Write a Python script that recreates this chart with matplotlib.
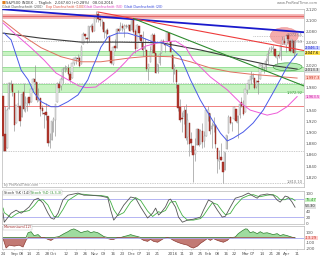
import matplotlib
matplotlib.use("Agg")
import matplotlib.pyplot as plt
from matplotlib.patches import Ellipse
import numpy as np

# ---------------- data (S&P 500 daily, 24 Aug 2015 - 8 Apr 2016) ----------------
opens = [1965.2,1898.1,1872.8,1942.8,1986.1,1986.7,1970.1,1916.5,1950.8,1947.8,
         1927.3,1971.5,1941.6,1951.5,1963.1,1955.1,1978.0,1995.3,1989.7,1960.8,
         1961.4,1943.2,1934.8,1935.9,1929.2,1881.9,1887.1,1919.7,1921.8,1954.3,
         1986.6,1982.3,1994.0,2013.7,2015.7,2015.0,2003.7,1996.5,2024.4,2031.7,
         2033.1,2033.5,2021.9,2058.2,2075.1,2068.8,2066.5,2088.4,2090.0,2080.8,
         2102.6,2110.6,2101.7,2098.6,2096.6,2077.2,2083.4,2072.3,2044.6,2022.1,
         2053.7,2051.0,2083.7,2082.8,2089.4,2084.4,2089.3,2088.8,2090.9,2082.9,
         2101.7,2080.7,2051.2,2090.4,2073.4,2061.2,2047.9,2047.3,2013.4,2025.6,
         2046.5,2073.8,2040.8,2010.3,2023.2,2042.2,2063.5,2057.8,2060.5,2077.3,
         2060.6,2038.2,2013.8,2011.7,1985.3,1946.0,1926.1,1927.8,1940.3,1891.7,
         1916.7,1888.7,1876.2,1861.5,1877.4,1906.3,1878.8,1902.5,1885.2,1894.0,
         1936.9,1935.3,1907.1,1911.7,1913.1,1873.3,1848.5,1857.1,1847.0,1833.4,
         1871.4,1898.8,1927.6,1916.7,1924.4,1942.4,1917.6,1931.9,1955.0,1947.1,
         1937.1,1976.6,1985.6,1994.0,1996.1,1996.9,1981.4,1991.0,1994.7,2019.3,
         2015.3,2014.2,2026.9,2041.2,2047.9,2048.6,2048.6,2032.5,2037.9,2035.8,
         2058.3,2063.8,2056.6,2073.2,2062.5,2045.6,2063.0,2045.5]
highs = [1965.2,1948.0,1943.1,1989.6,1993.5,1986.7,1970.1,1948.9,1975.0,1947.8,
         1970.4,1988.6,1965.3,1961.1,1963.1,1983.2,1997.3,2020.9,1989.7,1979.6,
         1961.4,1949.5,1937.2,1952.9,1929.2,1899.5,1920.5,1927.2,1951.4,1989.2,
         1991.6,1999.3,2016.5,2020.1,2018.7,2022.3,2009.6,2024.2,2033.5,2034.5,
         2039.1,2037.0,2055.2,2079.7,2075.1,2070.4,2090.4,2092.5,2094.3,2106.2,
         2116.5,2114.2,2108.8,2101.9,2096.6,2083.7,2086.9,2072.3,2044.6,2053.2,
         2066.7,2085.3,2086.7,2097.1,2095.6,2094.1,2093.0,2093.3,2093.8,2103.4,
         2104.3,2085.0,2093.8,2090.4,2073.4,2080.3,2067.7,2047.3,2022.9,2053.9,
         2076.7,2076.4,2040.8,2022.9,2042.7,2064.7,2067.4,2057.8,2081.6,2077.3,
         2062.5,2038.2,2021.9,2011.7,1985.3,1960.4,1935.7,1947.4,1950.3,1934.5,
         1916.7,1901.4,1876.2,1889.9,1908.9,1906.3,1906.7,1917.0,1903.0,1940.2,
         1947.2,1935.3,1918.0,1927.4,1913.1,1873.3,1868.3,1881.6,1847.0,1864.8,
         1895.8,1930.7,1930.0,1918.8,1946.7,1942.4,1932.1,1951.8,1963.0,1958.3,
         1978.4,1986.5,1993.7,2009.1,2006.1,1996.9,1992.7,2005.1,2022.4,2024.6,
         2015.9,2032.0,2046.2,2052.4,2053.9,2056.6,2048.6,2036.0,2042.7,2055.9,
         2072.2,2067.9,2075.1,2074.0,2062.5,2067.3,2063.0,2060.6]
lows = [1867.0,1867.1,1872.8,1942.8,1975.2,1965.9,1903.1,1916.5,1944.7,1911.6,
        1927.3,1937.9,1937.2,1939.2,1948.3,1954.3,1977.9,1986.7,1953.5,1955.8,
        1929.2,1932.6,1908.9,1921.5,1876.9,1871.9,1887.1,1900.7,1893.7,1954.3,
        1971.7,1976.4,1987.5,2007.6,2010.6,2001.8,1990.7,1996.5,2020.5,2022.3,
        2026.6,2017.2,2021.9,2058.2,2066.5,2058.8,2063.1,2082.6,2079.3,2080.8,
        2097.5,2096.9,2090.4,2083.7,2068.2,2069.9,2074.9,2045.7,2022.0,2019.4,
        2045.9,2051.0,2078.8,2082.8,2081.4,2070.3,2086.3,2084.1,2080.4,2082.9,
        2077.1,2042.4,2051.2,2066.8,2052.3,2036.5,2045.7,2008.8,1993.3,2025.6,
        2042.4,2041.7,2005.3,2005.9,2020.5,2042.2,2058.7,2044.2,2060.5,2062.0,
        2043.6,1989.7,2004.2,1979.1,1938.8,1918.5,1901.1,1914.4,1886.3,1878.9,
        1857.8,1864.6,1812.3,1849.0,1877.4,1876.0,1878.8,1872.7,1873.7,1894.0,
        1920.3,1897.3,1872.2,1900.5,1872.7,1828.5,1834.9,1850.3,1810.1,1833.4,
        1871.4,1898.8,1915.1,1902.2,1924.4,1919.4,1891.0,1925.4,1945.8,1931.8,
        1937.1,1968.8,1977.4,1986.8,1989.4,1977.4,1979.8,1969.3,1994.7,2012.2,
        2005.2,2010.0,2022.2,2041.2,2043.1,2040.6,2034.9,2022.5,2032.0,2028.3,
        2058.3,2057.5,2044.0,2062.6,2042.6,2043.1,2033.8,2041.7]
closes = [1893.2,1867.6,1940.5,1987.7,1988.9,1972.2,1913.9,1948.9,1951.1,1921.2,
          1969.4,1942.0,1952.3,1961.1,1953.0,1978.1,1995.3,1990.2,1958.0,1967.0,
          1942.7,1938.8,1932.2,1931.3,1881.8,1884.1,1920.0,1923.8,1951.4,1987.1,
          1979.9,1995.8,2013.4,2014.9,2017.5,2003.7,1994.2,2023.9,2033.1,2033.7,
          2030.8,2018.9,2052.5,2075.2,2071.2,2065.9,2090.4,2089.4,2079.4,2104.1,
          2109.8,2102.3,2099.9,2099.2,2078.6,2081.7,2075.0,2046.0,2023.0,2053.2,
          2050.4,2083.6,2081.2,2089.2,2086.6,2089.1,2088.9,2090.1,2080.4,2102.6,
          2079.5,2049.6,2091.7,2077.1,2063.6,2047.6,2052.2,2012.4,2021.9,2043.4,
          2073.1,2041.9,2005.6,2021.2,2039.0,2064.3,2061.0,2056.5,2078.4,2063.4,
          2043.9,2012.7,2016.7,1990.3,1943.1,1922.0,1923.7,1938.7,1890.3,1921.8,
          1880.3,1881.3,1859.3,1869.0,1906.9,1877.1,1903.6,1883.0,1893.4,1940.2,
          1939.4,1903.0,1912.5,1915.5,1880.1,1853.4,1852.2,1851.9,1829.1,1864.8,
          1895.6,1926.8,1917.8,1917.8,1945.5,1921.3,1929.8,1951.7,1948.1,1932.2,
          1978.4,1986.5,1993.4,2000.0,2001.8,1979.3,1989.3,1989.6,2022.2,2019.6,
          2015.9,2027.2,2040.6,2049.6,2051.6,2049.8,2036.7,2035.9,2037.1,2055.0,
          2064.0,2059.7,2072.8,2066.1,2045.2,2066.7,2041.9,2047.6]

# moving averages (trading-day index, price)
ma20_idx = [0.6,4.3,7,9.7,13.4,16.6,20.4,25.7,29.5,34.8,40.2,45.5,48.2,49.8,52.5,56.2,61.6,66.9,
            73.9,80.8,85.6,89.9,95.3,100.6,105.9,111.3,116.7,120.4,123.6,129,134.3,139.7,145,
            148.8,152.5,155.2,157.9]
ma20_val = [2077,2065,2038,2011,1994,1971,1955,1946,1946,1955,1967,1994,2017,2029,2052,2070,2077,2077,
            2070,2061,2060,2052,2035,1994,1958,1928,1899,1885,1890,1901,1917,1940,1971,
            1994,2017,2029,2040]
ma50_idx = [0,7,15,22,28.4,34.8,40.7,44.4,49.8,55.1,60.5,65.8,70.1,76.6,84.6,92.6,98,102.2,111.3,
            120.4,127.4,132.7,141.8,147.2,152.5,157.9]
ma50_val = [2095,2074,2051,2029,2006,1994,1983,1980,1981,1994,2008,2026,2042,2054,2061,2063,2052,2029,1999,
            1976,1953,1940,1931,1935,1946,1964]
ma100_idx = [0,9.7,20.4,31.1,41.8,52.5,68.5,79.2,89.9,100.6,111.3,122,132.7,143.4,157.9]
ma100_val = [2099,2074,2051,2035,2026,2026,2033,2036,2035,2026,2015,2008,2004,2001,1997]
ma200_idx = [0,20.4,41.8,63.2,84.6,106,127.4,143.4,157.9]
ma200_val = [2077,2068,2061,2061,2060,2047,2031,2020,2013]

# trend lines (index, price)
blue_trend = ([0, 161.6], [2119.5, 2078.6])
red_trend = ([50.9, 161.6], [2114.7, 2046.0])
green_trend = ([70, 161.6], [2103, 1983])

# horizontal levels
pink_band = (2102.3, 2111.2, 2106.7)
green_bands = [(2038.2, 2045.3), (2010.3, 2017.4), (1972.9, 1986.1)]
red_level = 1948
dotted_levels = [2063.6, 1988.0, 1867.0, 1810.1]

# stochastic (index, value)
st_idx = [0,0.6,4.3,7,9.7,11.3,14,16.6,18.8,21.4,24.1,25.7,27.3,29.5,32.1,34.8,40.2,43.4,47.1,52.5,
          56.2,57.8,59.4,61.6,64.8,68.5,71.2,73.9,77.6,80.3,81.9,83.5,84.6,87.2,88.9,89.9,92.6,94.2,
          96.3,99,102.2,106,107.6,110.3,112.4,115.1,117.7,119.4,122,124.7,128.4,131.7,134.3,136.5,
          138.1,141.8,145,147.2,148.8,151.5,153.1,155.2,156.8]
st_k = [33,3,33,43,33,40,54,77,83,67,33,17,13,33,77,93,100,93,93,90,
        85,43,10,27,60,87,83,53,17,33,50,27,33,54,77,80,53,20,
        3,10,13,20,43,77,70,43,20,23,53,83,90,100,90,83,
        93,97,93,77,70,90,87,70,53]
st_d = [50,35,18,30,38,38,42,58,75,78,60,40,22,20,45,75,97,96,93,92,
        88,70,45,25,35,70,85,75,40,22,30,38,35,42,60,70,72,50,
        25,10,10,15,25,50,68,62,40,28,32,58,83,92,95,90,
        88,93,95,88,78,78,84,82,75]

# momentum(12) (index, value)
mo_idx = [0,1.6,3.3,6,8.6,10.7,12.3,13.4,15,16.6,18.8,20.4,22,24.1,25.7,27.3,30,32.7,34.8,36.4,
          38,40.2,41.8,43.4,45.5,47.1,48.7,50.9,52.5,54.1,56.2,57.8,59.4,61.6,63.2,64.8,66.9,68.5,
          70.1,72.3,73.9,75.5,77.6,79.2,80.8,83,84.6,86.2,88.3,89.9,91.5,93.7,95.3,96.9,99,100.6,
          102.2,104.4,106,107.6,109.7,111.3,112.9,115.1,116.7,118.3,120.4,122,123.1,124.7,126.3,
          128.4,130.1,131.1,132.7,134.3,136.5,138.1,139.7,141.8,143.4,145,147.2,148.8,150.4,152.5,
          154.1,155.7,156.8]
mo_val = [-24,-200,-145,-163,-145,-180,-55,90,110,36,55,0,0,-36,-55,-20,18,73,110,145,
          163,127,90,110,127,90,110,90,55,18,-20,-36,-36,0,0,18,36,55,
          36,18,-20,-55,-73,-36,-73,-90,-55,-20,0,-20,-55,-90,-110,-127,-145,-180,
          -200,-163,-110,-73,-20,-55,-20,-55,-73,-90,-55,0,-10,10,73,
          127,163,160,90,110,73,110,80,90,73,55,73,36,55,36,
          18,0,-13]

xtick_pos = [0,6,10,14,19,24,27,34,39,44,49,54,59,64,69,73,78,83,91,96,101,106,110,115,120,124,
             130,134,139,144,148,152,158]
xtick_lab = ["24","Sep","08","14","21","28","Oct","12","19","26","Nov","09","16","23","Dec","07",
             "14","21","2016","11","19","25","Feb","08","16","22","Mar","07","14","21","28","Apr","11"]

# ---------------- figure ----------------
W, H = 320, 256
fig = plt.figure(figsize=(3.2, 2.56), dpi=100)
fig.patch.set_facecolor("white")

def rect(x0, y0, x1, y1):
    return [x0 / W, 1 - y1 / H, (x1 - x0) / W, (y1 - y0) / H]

ax = fig.add_axes(rect(2, 9, 304, 187))
ax_st = fig.add_axes(rect(2, 191, 304, 224))
ax_mo = fig.add_axes(rect(2, 226, 304, 249))

XL = (-0.6, 161.6)
FS = 3.0
for a in (ax, ax_st, ax_mo):
    a.set_xlim(*XL)
    a.set_facecolor("white")
    for s in a.spines.values():
        s.set_color("#b8b8b8")
        s.set_linewidth(0.5)
    a.yaxis.tick_right()
    a.tick_params(axis="y", length=0, labelsize=FS, colors="#555555", pad=1.5)
    a.tick_params(axis="x", length=0, labelbottom=False)

# main panel
ax.set_ylim(1803, 2120)
ax.axhspan(pink_band[0], pink_band[1], color="#f6b9b9", lw=0, zorder=1)
ax.axhline(pink_band[2], color="#e36a6a", lw=0.9, zorder=1)
for lo, hi in green_bands:
    ax.axhspan(lo, hi, color="#c8f3c2", lw=0, zorder=1)
    ax.axhline(lo, color="#8ad88a", lw=0.5, zorder=1)
    ax.axhline(hi, color="#8ad88a", lw=0.5, zorder=1)
ax.axhline(red_level, color="#f08080", lw=0.7, zorder=1)
for lv in dotted_levels:
    ax.axhline(lv, color="#9a9a9a", lw=0.5, ls=(0, (1, 1.5)), zorder=1)
ax.plot([134, 161.6], [2072.6, 2072.6], color="#9a9a9a", lw=0.5, ls=(0, (1, 1.5)), zorder=1)

ax.add_patch(Ellipse((151, 2072), 15, 30, facecolor="#f29090", edgecolor="#e88080",
                     alpha=0.75, lw=0.4, zorder=2))
ax.add_patch(Ellipse((152.8, 2017), 15.5, 14.2, facecolor="#b2eab2", edgecolor="#3a9a3a",
                     alpha=0.9, lw=0.5, zorder=2))

o = np.array(opens); h = np.array(highs); l = np.array(lows); c = np.array(closes)
idx = np.arange(len(c))
up = c >= o
ax.vlines(idx, l, h, color="#8c8c8c", lw=0.45, zorder=3)
body_lo = np.minimum(o, c)
body_h = np.maximum(np.abs(c - o), 0.8)
ax.bar(idx[up], body_h[up], bottom=body_lo[up], width=0.75, color="#ececec",
       edgecolor="#9a9a9a", linewidth=0.3, zorder=3)
ax.bar(idx[~up], body_h[~up], bottom=body_lo[~up], width=0.75, color="#b3362c",
       edgecolor="#8e2a22", linewidth=0.3, zorder=3)

ax.plot(ma200_idx, ma200_val, color="#3c3c3c", lw=0.8, zorder=4)
ax.plot(ma100_idx, ma100_val, color="#e07060", lw=0.7, zorder=4)
ax.plot(ma50_idx, ma50_val, color="#ee5ad8", lw=0.7, zorder=4)
ax.plot(ma20_idx, ma20_val, color="#4a5ae8", lw=0.7, zorder=4)
ax.plot(*blue_trend, color="#1a1acc", lw=1.3, zorder=5)
ax.plot(*red_trend, color="#ee3b3b", lw=0.8, zorder=5)
ax.plot(*green_trend, color="#2e8b2e", lw=0.8, zorder=5)

yt = [1820, 1840, 1860, 1880, 1900, 1920, 1940, 1980, 2020, 2060, 2080, 2100, 2120]
ax.set_yticks(yt)
ax.set_yticklabels([f"{v:,}" for v in yt])

def box(a, y, txt, fc, tc="black", fs=FS):
    a.text(1.004, y, txt, transform=a.get_yaxis_transform(), fontsize=fs, va="center",
           ha="left", color=tc, bbox=dict(boxstyle="square,pad=0.08", fc=fc, ec="none"),
           clip_on=False, zorder=10)

box(ax, 2050.5, "2,046.1", "#c8d0ff", "#1a1acc", 2.7)
box(ax, 2041.5, "2,047.6", "#ffe14a", "black", 2.7)
box(ax, 2011.0, "2,013.3", "#dddddd", "#333333", 2.7)
box(ax, 1998.0, "1,997.3", "#ffd0c8", "#c03020", 2.7)
box(ax, 1963.0, "1,963.5", "#ffc8f0", "#c020a0", 2.7)

small = dict(fontsize=2.6, ha="right", va="center", color="#777777", zorder=6)
ax.text(160.8, 2074.5, "2,072.65", **small)
ax.text(160.8, 2061.6, "2,063.59", **small)
ax.text(160.8, 1970.5, "1,972.92", color="#3a9a3a", fontsize=2.6, ha="right", va="center")
ax.text(160.8, 1812.5, "1,810.10", **small)
ax.text(0.3, 1803.5, "by ProRealTime.com", fontsize=2.4, color="#888888", va="bottom")

# stochastic
ax_st.set_ylim(-3, 107)
ax_st.axhline(80, color="#a8a8f0", lw=0.6)
ax_st.axhline(20, color="#a8a8f0", lw=0.6)
ax_st.plot(st_idx, st_d, color="#44b044", lw=0.6)
ax_st.plot(st_idx, st_k, color="#555555", lw=0.6)
ax_st.set_yticks([0, 20, 40, 100])
ax_st.set_yticklabels(["0", "20", "40", "100"])
box(ax_st, 77, "75.47", "#c8f3c2", "#2e8b2e", 2.7)
box(ax_st, 56, "53.30", "#e0e0e0", "#333333", 2.7)
ax_st.text(0.3, 101, "Stoch %K (14)", fontsize=2.5, color="#333333", va="center",
           bbox=dict(boxstyle="square,pad=0.1", fc="white", ec="#bbbbbb", lw=0.3))
ax_st.text(15.0, 101, "Stoch %D (3,3,3)", fontsize=2.5, color="#2e8b2e", va="center",
           bbox=dict(boxstyle="square,pad=0.1", fc="white", ec="#bbbbbb", lw=0.3))

# momentum
ax_mo.set_ylim(-218, 218)
mv = np.array(mo_val, dtype=float)
mi = np.array(mo_idx, dtype=float)
ax_mo.fill_between(mi, mv, 0, where=mv >= 0, interpolate=True, color="#9fdc9f", lw=0)
ax_mo.fill_between(mi, mv, 0, where=mv <= 0, interpolate=True, color="#c27a74", lw=0)
ax_mo.plot(mi, np.maximum(mv, 0), color="#2e7d2e", lw=0.5)
ax_mo.plot(mi, np.minimum(mv, 0), color="#8e3a32", lw=0.5)
ax_mo.axhline(0, color="#a8a8f0", lw=0.6)
ax_mo.set_yticks([100, -100, -200])
ax_mo.set_yticklabels(["100", "-100", "-200"])
box(ax_mo, -13, "-13.29", "#ffd0d0", "#c03020", 2.7)
ax_mo.text(0.3, 190, "Momentum(12)", fontsize=2.6, color="#a03030", va="center",
           bbox=dict(boxstyle="square,pad=0.15", fc="white", ec="#bbbbbb", lw=0.3))

ax_mo.set_xticks(xtick_pos)
ax_mo.set_xticklabels(xtick_lab)
ax_mo.tick_params(axis="x", length=1, width=0.4, color="#aaaaaa", labelbottom=True,
                  labelsize=FS, labelcolor="#555555", pad=1)

# header
fig.text(2 / W, 1 - 3 / H, "\u25a0", fontsize=3, color="#e08020", va="center")
fig.text(6 / W, 1 - 3 / H, "S&P500 INDEX  -  Täglich   2,047.60 (+0.28%)   08.04.2016",
         fontsize=2.6, color="#333333", va="center")
fig.text(1 - 2 / W, 1 - 3 / H, "www.ProRealTime.com", fontsize=2.6, color="#777777",
         va="center", ha="right")
hdr = [(2, "Glatt Durchschnitt (200)", "#555555"),
       (46, "Exp Durchschnitt (100)", "#e05040"),
       (84, "Glatt Durchschnitt (50)", "#e040c0"),
       (124, "Glatt Durchschnitt (20)", "#3344dd")]
for x0, t, col in hdr:
    fig.text(x0 / W, 1 - 7 / H, t, fontsize=2.4, color=col, va="center")

fig.savefig("out.png", dpi=100)
